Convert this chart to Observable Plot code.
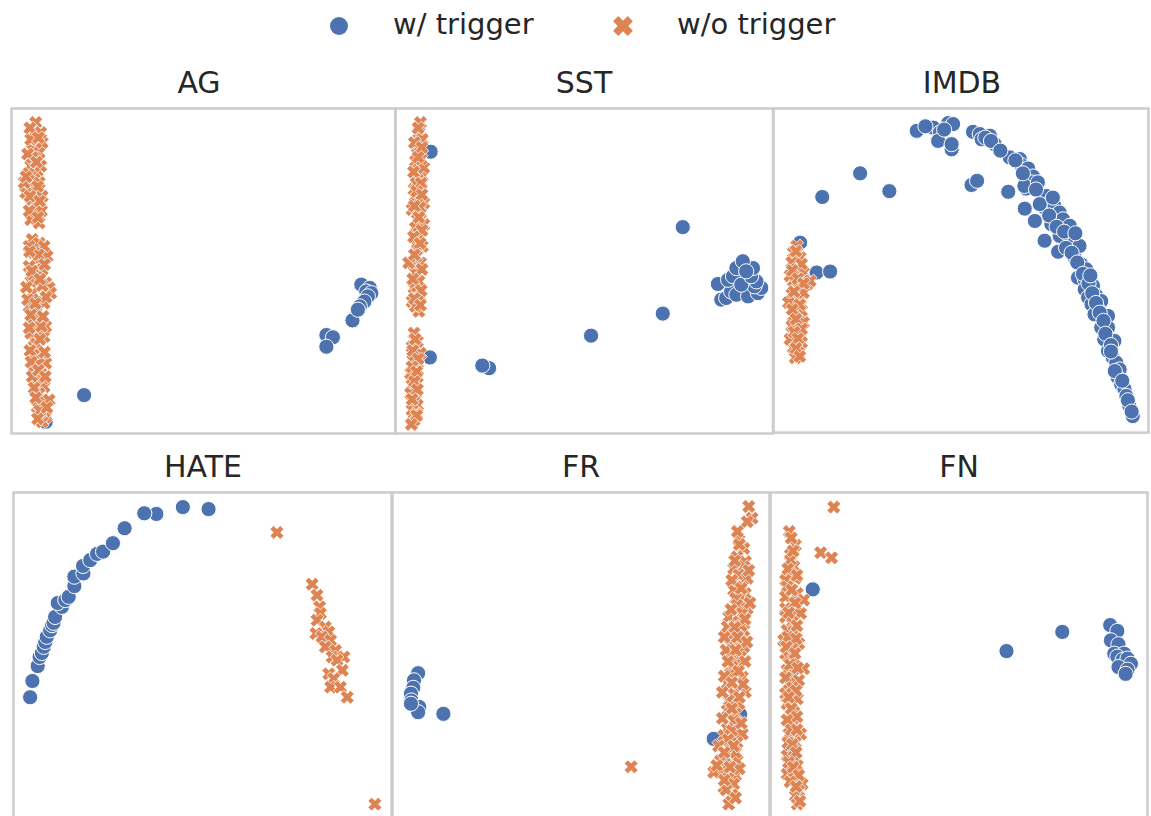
<!DOCTYPE html>
<html>
<head>
<meta charset="utf-8">
<script src="https://cdn.jsdelivr.net/npm/d3@7"></script>
<script src="https://cdn.jsdelivr.net/npm/@observablehq/plot@0.6"></script>
<style>
  html, body { margin: 0; padding: 0; background: #ffffff; }
  body { width: 1151px; height: 816px; position: relative; overflow: hidden; font-family: "DejaVu Sans", sans-serif; color: #262626; }
  .panel { position: absolute; }
  .title { position: absolute; font-size: 30px; line-height: 1; white-space: nowrap; transform: translateX(-50%); }
  .legtext { position: absolute; font-size: 29px; line-height: 1; white-space: nowrap; }
  .legmark { position: absolute; }
</style>
</head>
<body>
<script>
// ---------- data ----------
const panels = ["AG", "SST", "IMDB", "HATE", "FR", "FN"];
const seriesLabels = ["w/ trigger", "w/o trigger"];
const seriesColors = ["#4C72B0", "#DD8452"];

// 2-D embedding coordinates (normalised 0–100 per panel)
const agBlue = [[18.9,11.8],[82.0,30.3],[83.7,29.6],[82.0,26.7],[88.8,34.8],[91.1,45.8],[93.3,44.8],[92.4,43.7],[93.7,43.2],[92.8,42.2],[91.9,40.6],[90.7,39.1],[90.2,38.1],[8.9,3.6]];
const agOrange = [[6.3,95.7],[5.9,92.6],[6.7,89.5],[5.4,87.4],[7.2,86.4],[6.1,84.9],[5.0,82.3],[6.7,80.8],[5.9,78.2],[7.2,77.2],[4.6,75.6],[6.3,74.1],[5.4,72.0],[6.7,70.0],[5.9,67.9],[5.0,65.8],[7.2,64.8],[5.4,59.7],[7.2,58.6],[8.5,57.6],[5.9,55.6],[6.7,53.5],[4.6,51.4],[8.0,50.4],[6.3,48.4],[8.9,46.3],[9.8,44.8],[5.4,43.2],[7.2,41.2],[8.5,40.1],[4.6,39.1],[6.3,37.0],[7.6,35.5],[5.4,34.0],[6.7,30.9],[8.5,29.8],[5.9,28.8],[7.2,26.7],[6.3,24.7],[8.0,22.6],[5.9,20.6],[7.6,18.5],[6.7,16.5],[8.5,14.4],[7.2,12.3],[8.0,10.3],[6.7,8.2],[8.9,5.1],[8.0,3.6],[5.4,84.9],[7.6,82.3],[8.0,73.0],[4.6,57.6],[9.3,54.5],[5.0,46.8],[10.2,43.2],[4.2,41.2],[8.9,32.9],[5.0,30.9],[8.9,21.6],[5.4,17.5],[9.8,10.3],[3.7,74.1],[3.3,77.2],[8.0,89.5],[7.6,92.6],[5.0,90.5],[4.4,80.0],[7.8,68.5],[7.0,55.0],[5.5,49.0],[8.0,45.5],[6.0,38.5],[7.8,33.0],[6.5,27.5],[7.0,21.5],[8.3,17.0],[7.5,6.5],[4.8,94.0],[7.0,91.0],[4.2,86.0],[6.5,83.5],[3.8,79.0],[6.8,76.0],[4.8,73.0],[7.3,71.5],[4.6,68.5],[6.9,66.5],[4.7,56.0],[8.6,52.0],[5.3,50.0],[7.4,47.5],[3.9,45.0],[9.0,42.0],[6.2,40.0],[5.0,36.5],[8.2,36.0],[4.6,32.5],[7.4,29.0],[4.8,25.5],[8.6,25.0],[5.1,22.0],[7.0,19.5],[8.8,17.5],[5.9,14.0],[6.3,11.0],[7.4,7.0],[9.2,8.0],[6.8,4.5]];

const sstBlue = [[9.3,86.7],[9.1,23.4],[24.8,20.1],[23.0,20.9],[51.8,30.1],[70.8,36.9],[76.1,63.5],[85.4,46.0],[86.3,41.2],[87.6,41.7],[88.9,43.7],[90.3,42.7],[93.4,42.2],[96.0,43.2],[96.9,44.8],[95.1,45.3],[88.1,47.3],[89.4,48.4],[91.6,45.8],[95.6,46.8],[94.2,48.4],[90.3,50.9],[94.7,50.9],[92.0,53.0],[92.9,49.9]];
const sstOrange = [[6.6,95.7],[6.2,92.6],[7.1,90.5],[5.8,88.0],[6.6,86.4],[5.3,83.8],[6.2,81.3],[7.1,79.2],[5.8,78.2],[6.6,75.6],[5.3,73.0],[6.2,72.0],[7.5,70.9],[6.6,67.9],[5.8,65.8],[5.3,63.3],[6.2,61.7],[5.8,59.7],[7.1,57.6],[5.8,56.6],[4.4,52.5],[6.6,52.5],[5.3,49.4],[6.2,46.8],[4.9,44.8],[5.8,43.2],[4.4,40.6],[6.2,37.6],[5.3,39.1],[4.9,30.9],[5.8,28.3],[4.4,26.7],[5.3,23.7],[5.8,21.6],[4.9,19.5],[5.8,17.5],[4.4,14.9],[5.3,12.3],[4.9,9.8],[5.8,8.7],[4.4,7.2],[4.9,4.1],[4.0,18.5],[6.6,24.7],[4.0,12.3],[3.5,52.5],[7.5,81.8],[4.9,75.1],[7.5,64.3],[4.4,68.9],[6.8,84.5],[5.5,77.0],[6.5,69.5],[5.5,54.5],[6.5,42.0],[4.6,22.5],[5.6,6.0],[6.0,94.0],[5.0,89.5],[7.0,88.0],[6.0,85.0],[4.8,80.5],[6.8,77.0],[5.6,74.5],[7.0,73.5],[5.0,70.0],[6.2,66.5],[7.0,62.5],[4.8,60.5],[6.5,58.5],[5.0,55.0],[7.0,50.5],[4.6,47.5],[6.8,44.0],[5.0,41.5],[6.6,39.5],[5.2,29.0],[4.6,25.5],[6.0,23.0],[4.4,20.5],[5.6,19.0],[5.0,16.0],[5.8,13.5],[4.4,10.5],[5.6,5.5],[4.2,2.8]];

const imdbBlue = [[13.0,72.7],[23.1,80.0],[30.9,74.5],[11.5,49.4],[15.1,49.7],[7.1,58.6],[38.2,93.1],[42.6,94.1],[44.4,92.6],[43.9,90.0],[46.6,95.5],[47.5,87.4],[47.5,89.0],[47.9,95.2],[52.8,76.4],[54.3,77.7],[53.2,92.8],[55.0,92.1],[55.5,90.5],[59.0,89.0],[57.7,91.6],[63.0,84.9],[65.7,84.4],[66.1,82.5],[62.6,74.3],[67.9,81.5],[69.2,79.0],[68.8,77.2],[67.4,75.3],[66.9,76.1],[67.0,69.1],[69.7,65.3],[70.5,77.2],[71.9,72.0],[72.8,73.0],[73.7,71.0],[72.3,69.4],[74.1,64.3],[74.9,70.0],[76.3,67.9],[77.2,65.8],[72.3,59.2],[76.3,60.7],[79.9,60.2],[78.5,61.3],[79.0,63.8],[80.3,58.6],[75.9,55.8],[80.3,54.0],[81.6,57.6],[82.1,51.9],[81.2,47.8],[83.4,50.4],[83.0,47.3],[85.2,45.3],[83.0,44.2],[83.9,41.7],[86.1,42.2],[84.8,39.6],[87.4,40.6],[86.5,38.1],[85.6,36.5],[89.2,36.0],[87.4,32.4],[89.2,32.4],[88.2,28.8],[90.9,28.3],[89.2,25.2],[90.5,23.1],[91.4,21.6],[92.3,19.5],[91.8,17.0],[92.7,14.9],[93.6,13.4],[94.1,11.3],[94.9,8.2],[95.8,5.1],[40.5,94.5],[45.5,93.5],[56.5,91.0],[58.0,90.0],[60.5,87.0],[64.5,84.0],[66.5,80.0],[70.0,75.0],[71.0,70.5],[73.5,67.0],[75.5,63.5],[77.5,62.0],[78.0,57.0],[79.5,55.5],[81.0,52.5],[82.5,49.0],[84.0,46.0],[85.0,43.0],[86.0,40.0],[87.0,37.0],[88.0,34.5],[88.5,30.5],[90.0,27.0],[90.0,25.0],[91.0,19.0],[93.0,16.0],[94.5,10.0],[95.5,6.5],[84.5,48.5],[80.5,61.5],[74.5,72.5]];
const imdbOrange = [[6.2,57.6],[5.3,55.6],[7.1,54.0],[4.9,52.5],[6.2,50.4],[8.0,49.4],[5.3,46.8],[8.9,45.7],[6.7,44.7],[4.9,42.7],[7.1,41.2],[5.8,39.1],[7.5,37.6],[5.3,36.0],[6.7,34.5],[4.9,32.9],[7.1,30.9],[5.8,29.3],[7.5,27.8],[5.3,26.2],[6.7,24.7],[5.8,23.1],[4.4,48.4],[4.0,40.1],[8.0,34.0],[4.4,28.8],[8.0,43.2],[9.8,46.8],[6.0,56.0],[7.5,52.0],[5.0,50.0],[6.5,47.5],[8.0,46.0],[5.5,43.5],[7.0,39.5],[5.0,38.0],[6.0,35.0],[7.5,32.0],[5.5,31.0],[6.5,29.0],[6.0,26.0],[7.0,23.5]];

const hateBlue = [[4.4,37.0],[5.0,42.0],[6.4,46.6],[6.9,49.4],[7.5,50.6],[8.0,52.5],[8.4,54.0],[8.8,55.6],[9.7,57.6],[10.2,59.2],[10.6,59.9],[11.0,61.7],[12.8,64.8],[11.7,66.0],[13.7,66.9],[14.6,67.9],[16.1,71.2],[16.1,74.1],[18.5,75.1],[18.4,77.4],[20.3,79.2],[22.1,81.1],[23.7,81.8],[26.3,84.4],[29.4,89.0],[37.8,93.4],[34.6,93.6],[44.8,95.5],[51.6,94.9]];
const hateOrange = [[69.7,87.7],[79.0,71.8],[80.3,68.4],[81.0,64.8],[81.2,62.8],[80.3,60.7],[82.5,58.6],[80.0,56.6],[83.4,57.1],[81.6,55.6],[83.9,54.5],[82.5,52.5],[85.2,51.4],[84.3,49.4],[87.4,49.4],[85.6,48.4],[87.0,45.3],[83.4,44.2],[84.7,42.7],[83.9,40.1],[86.5,40.1],[88.3,37.0],[95.6,4.1]];

const frBlue = [[93.8,75.1],[92.2,31.7],[85.2,24.2],[6.8,44.4],[5.7,42.2],[5.5,39.9],[4.9,38.1],[5.0,36.0],[7.1,34.0],[6.8,32.4],[4.9,35.0],[13.5,31.9]];
const frOrange = [[94.5,95.7],[95.4,92.1],[94.1,91.0],[63.3,15.6],[91.9,85.4],[93.2,82.8],[91.4,80.2],[93.6,78.7],[90.5,76.6],[93.2,77.2],[91.9,74.6],[94.1,73.6],[92.8,71.0],[90.5,70.0],[93.6,68.9],[92.3,67.9],[91.0,67.4],[91.4,65.3],[94.1,64.3],[92.8,62.8],[89.2,61.7],[91.9,60.2],[88.8,58.6],[93.2,57.6],[90.5,56.6],[92.3,54.5],[89.7,53.0],[93.2,52.5],[90.1,50.9],[92.3,49.4],[91.4,47.3],[90.1,46.3],[89.7,44.2],[92.8,43.2],[88.8,41.2],[90.5,38.1],[93.6,38.6],[89.2,36.0],[91.9,35.0],[88.8,32.9],[91.0,31.9],[90.5,29.8],[88.8,27.3],[90.1,26.7],[92.8,25.7],[87.9,25.2],[91.4,23.1],[89.7,21.1],[88.3,18.5],[87.0,17.5],[91.4,17.5],[88.8,15.4],[87.5,14.4],[85.2,13.9],[91.0,12.9],[89.2,12.3],[90.5,10.3],[87.9,9.3],[89.2,4.1],[90.0,7.0],[91.5,88.0],[92.5,59.0],[89.5,34.0],[91.0,20.0],[92.0,84.0],[90.8,79.0],[94.5,76.0],[90.0,73.0],[92.5,70.5],[94.8,66.0],[89.8,64.0],[93.5,61.0],[90.8,58.5],[88.0,55.5],[91.5,55.5],[94.0,54.0],[88.5,51.5],[91.0,51.5],[93.5,48.0],[89.0,48.0],[91.8,45.0],[88.0,43.5],[93.0,41.0],[90.0,41.5],[87.5,38.5],[92.0,37.0],[90.0,33.5],[87.5,30.5],[92.5,29.0],[89.0,24.0],[86.5,22.0],[90.5,22.0],[88.0,20.0],[92.0,15.0],[86.0,16.0],[89.5,15.5],[88.5,8.5],[91.0,6.0],[88.0,11.5]];

const fnBlue = [[5.5,21.5],[6.5,15.0],[11.2,70.2],[62.6,51.2],[77.4,57.1],[90.1,59.2],[92.0,57.4],[90.3,54.5],[92.3,53.3],[91.2,50.4],[93.8,50.4],[92.0,49.5],[93.4,48.5],[94.7,48.9],[95.6,47.3],[92.3,46.3],[94.7,45.5],[94.2,44.2]];
const fnOrange = [[16.8,95.5],[5.0,88.0],[6.6,83.8],[13.3,81.5],[16.2,79.9],[6.2,77.2],[6.6,73.6],[5.3,80.8],[5.3,79.2],[5.3,75.1],[4.0,73.0],[4.4,71.0],[7.1,68.9],[4.0,67.9],[8.8,66.9],[4.0,64.3],[6.6,63.3],[8.0,62.8],[4.0,61.7],[5.8,60.2],[4.4,57.6],[6.2,57.1],[3.5,54.5],[7.5,53.5],[5.8,52.0],[4.0,50.4],[4.9,49.4],[6.2,48.9],[8.8,45.8],[4.4,45.3],[6.2,43.7],[7.5,42.2],[4.9,41.2],[5.8,38.1],[4.0,38.1],[7.1,36.5],[4.4,35.0],[6.2,32.4],[5.3,29.8],[6.2,28.8],[4.9,25.7],[8.0,25.7],[6.6,23.1],[5.8,21.1],[4.4,19.0],[6.2,18.5],[7.1,15.9],[5.3,14.4],[4.4,13.4],[6.2,12.3],[8.4,10.3],[7.5,8.2],[6.6,6.7],[7.1,4.1],[5.5,86.0],[6.0,82.0],[4.6,76.5],[7.0,74.5],[5.6,70.0],[6.5,66.0],[4.8,63.0],[7.0,59.0],[4.6,55.5],[6.8,55.0],[4.2,52.5],[6.5,50.5],[5.2,47.0],[7.2,46.0],[4.0,43.0],[5.8,40.0],[6.8,39.0],[4.8,37.0],[5.5,33.5],[7.0,31.0],[4.4,30.0],[5.5,27.0],[7.0,27.0],[4.6,23.0],[5.8,22.5],[6.8,20.0],[4.8,17.0],[6.0,15.5],[7.5,13.0],[5.2,11.0],[6.8,9.5],[7.8,5.0]];

const panelData = {
  AG: [agBlue, agOrange], SST: [sstBlue, sstOrange], IMDB: [imdbBlue, imdbOrange],
  HATE: [hateBlue, hateOrange], FR: [frBlue, frOrange], FN: [fnBlue, fnOrange]
};

// ---------- layout (frame positions in page px) ----------
const layout = {
  AG:   {left: 10.5, top: 108, w: 384,   h: 325, tx: 199},
  SST:  {left: 395,  top: 108, w: 377.5, h: 325, tx: 584},
  IMDB: {left: 773,  top: 108, w: 376,   h: 325, tx: 962},
  HATE: {left: 13,   top: 492, w: 378,   h: 325, tx: 203},
  FR:   {left: 392,  top: 492, w: 377,   h: 325, tx: 581},
  FN:   {left: 770,  top: 492, w: 377,   h: 325, tx: 959}
};

// filled "X" marker (matplotlib style)
const xSymbol = {
  draw(ctx, size) {
    const r = Math.sqrt(size / Math.PI);
    const L = r, w = r * 0.36, c = Math.SQRT1_2;
    const pts = [[-L,-w],[-w,-w],[-w,-L],[w,-L],[w,-w],[L,-w],[L,w],[w,w],[w,L],[-w,L],[-w,w],[-L,w]];
    pts.forEach(([x, y], i) => {
      const X = (x - y) * c, Y = (x + y) * c;
      if (i) ctx.lineTo(X, Y); else ctx.moveTo(X, Y);
    });
    ctx.closePath();
  }
};

const M = 3;
for (const name of panels) {
  const L = layout[name];
  const [blue, orange] = panelData[name];
  const chart = Plot.plot({
    width: L.w + 2 * M,
    height: L.h + 2 * M,
    margin: M,
    x: {domain: [0, 100], axis: null},
    y: {domain: [0, 100], axis: null},
    style: {background: "transparent", overflow: "visible"},
    marks: [
      Plot.frame({stroke: "#cccccc", strokeWidth: 2.5}),
      Plot.dot(blue, {x: d => d[0], y: d => d[1], r: 7.6, fill: seriesColors[0], stroke: "white", strokeWidth: 1}),
      Plot.dot(orange, {x: d => d[0], y: d => d[1], r: 7.2, symbol: xSymbol, fill: seriesColors[1], stroke: "white", strokeWidth: 0.8})
    ]
  });
  const div = document.createElement("div");
  div.className = "panel";
  div.style.left = (L.left - M) + "px";
  div.style.top = (L.top - M) + "px";
  div.appendChild(chart);
  document.body.appendChild(div);

  const t = document.createElement("div");
  t.className = "title";
  t.textContent = name;
  t.style.left = L.tx + "px";
  t.style.top = (L.top - 40.5) + "px";
  document.body.appendChild(t);
}

// ---------- legend ----------
const legendItems = [
  {label: seriesLabels[0], color: seriesColors[0], symbol: "circle", mx: 339, tx: 393},
  {label: seriesLabels[1], color: seriesColors[1], symbol: "x", mx: 623, tx: 677}
];
for (const it of legendItems) {
  const svg = d3.create("svg").attr("width", 26).attr("height", 26).attr("class", "legmark")
    .style("left", (it.mx - 13) + "px").style("top", (26 - 13) + "px");
  if (it.symbol === "circle") {
    svg.append("circle").attr("cx", 13).attr("cy", 13).attr("r", 9).attr("fill", it.color);
  } else {
    const p = d3.path(); xSymbol.draw(p, Math.PI * 10.3 * 10.3);
    svg.append("path").attr("transform", "translate(13,13)").attr("d", p.toString()).attr("fill", it.color);
  }
  document.body.appendChild(svg.node());
  const t = document.createElement("div");
  t.className = "legtext";
  t.textContent = it.label;
  t.style.left = it.tx + "px";
  t.style.top = "10px";
  document.body.appendChild(t);
}
</script>
</body>
</html>
